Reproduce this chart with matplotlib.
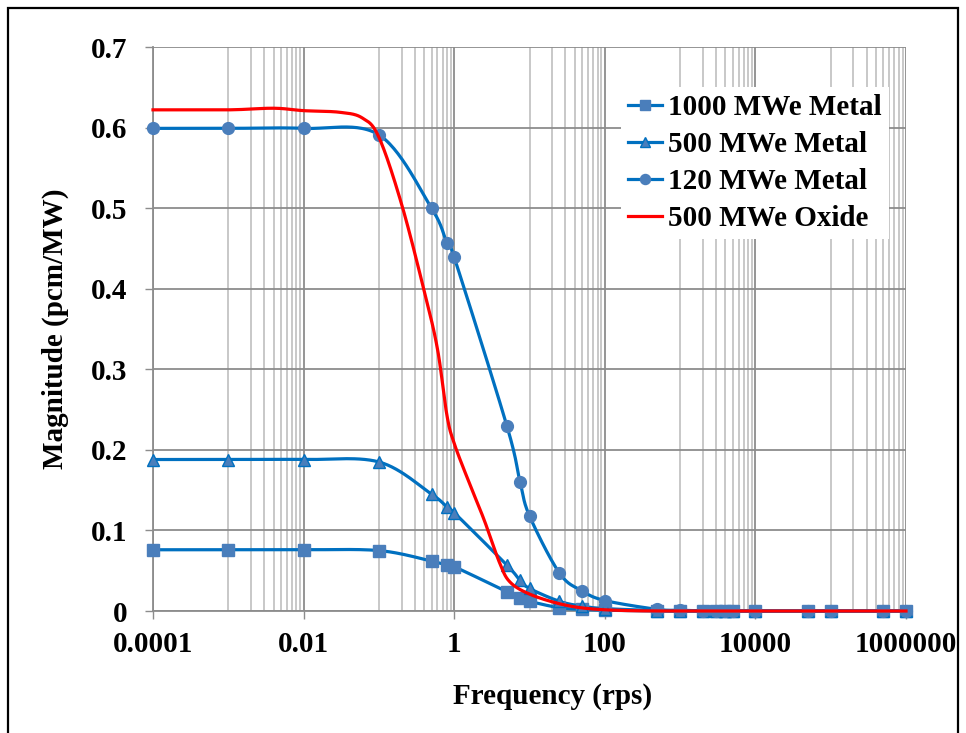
import numpy as np
import matplotlib
matplotlib.use("Agg")
import matplotlib.pyplot as plt
from matplotlib.lines import Line2D
from matplotlib.patches import Rectangle
from matplotlib.ticker import FixedLocator, NullFormatter

plt.rcParams['font.family'] = ['Liberation Serif', 'DejaVu Serif']
plt.rcParams['font.weight'] = 'bold'

# Frequencies (rps) shared by the metal-core series
freq = [1e-4, 1e-3, 1e-2, 0.1, 0.5, 0.8, 1, 5, 7.5, 10, 25, 50, 100, 500,
        1000, 2000, 3000, 4000, 5000, 1e4, 5e4, 1e5, 5e5, 1e6]

mag_1000_metal = [0.076, 0.076, 0.076, 0.075, 0.062, 0.057, 0.055, 0.024, 0.016,
                  0.012, 0.004, 0.002, 0.001, 0.0, 0, 0, 0, 0, 0, 0, 0, 0, 0, 0]
mag_500_metal = [0.188, 0.188, 0.188, 0.185, 0.145, 0.129, 0.122, 0.057, 0.038,
                 0.028, 0.012, 0.006, 0.003, 0.0005, 0, 0, 0, 0, 0, 0, 0, 0, 0, 0]
mag_120_metal = [0.599, 0.599, 0.599, 0.591, 0.500, 0.457, 0.439, 0.230, 0.160,
                 0.118, 0.047, 0.025, 0.013, 0.002, 0.001, 0, 0, 0, 0, 0, 0, 0, 0, 0]

# Oxide-core response
freq_oxide = [1e-4, 1e-3, 4e-3, 1e-2, 0.03, 0.06, 0.1, 0.2, 0.4, 0.6, 0.8, 1.0,
              1.6, 2.5, 4.0, 5.5, 10, 25, 60, 200, 1000, 1e4, 1e5, 1e6]
mag_500_oxide = [0.622, 0.622, 0.624, 0.621, 0.619, 0.612, 0.588, 0.505, 0.397,
                 0.325, 0.243, 0.208, 0.158, 0.113, 0.060, 0.036, 0.021, 0.009,
                 0.003, 0.0005, 0, 0, 0, 0]

x_major = [1e-4, 1e-2, 1, 100, 1e4, 1e6]
x_labels = ['0.0001', '0.01', '1', '100', '10000', '1000000']
y_ticks = [0, 0.1, 0.2, 0.3, 0.4, 0.5, 0.6, 0.7]
y_labels = ['0', '0.1', '0.2', '0.3', '0.4', '0.5', '0.6', '0.7']

series_labels = ['1000 MWe Metal', '500 MWe Metal', '120 MWe Metal', '500 MWe Oxide']

LINE_BLUE = '#0070C0'
MARK_BLUE = '#4A7EBB'
RED = '#FF0000'
GRID_MAJOR = '#8C8C8C'
GRID_MINOR = '#C4C4C4'


def smooth_curve(x, y, n=30):
    """Bezier smoothing through the points in (log10 x, y) space."""
    P = np.column_stack([np.log10(x), np.asarray(y, float)])
    t = np.linspace(0, 1, n)[:, None]
    parts = []
    for i in range(len(P) - 1):
        p0 = P[i - 1] if i > 0 else P[i]
        p1, p2 = P[i], P[i + 1]
        p3 = P[i + 2] if i + 2 < len(P) else P[i + 1]
        c1 = p1 + (p2 - p0) / 6.0
        c2 = p2 - (p3 - p1) / 6.0
        seg = ((1 - t) ** 3) * p1 + 3 * ((1 - t) ** 2) * t * c1 + 3 * (1 - t) * t ** 2 * c2 + t ** 3 * p2
        parts.append(seg if i == 0 else seg[1:])
    S = np.vstack(parts)
    return 10 ** S[:, 0], S[:, 1]


W, H = 966, 733
fig = plt.figure(figsize=(W / 100, H / 100), dpi=100)
fig.patch.set_facecolor('white')

x0, x1, y0, y1 = 153, 906, 47, 611
ax = fig.add_axes([x0 / W, 1 - y1 / H, (x1 - x0) / W, (y1 - y0) / H])

ax.set_xscale('log')
ax.set_xlim(1e-4, 1e6)
ax.set_ylim(0, 0.7)

ax.xaxis.set_major_locator(FixedLocator(x_major))
ax.set_xticklabels(x_labels)
minor = [k * 10.0 ** e for e in (-3, -1, 1, 3, 5) for k in range(1, 10)]
ax.xaxis.set_minor_locator(FixedLocator(minor))
ax.xaxis.set_minor_formatter(NullFormatter())
ax.set_yticks(y_ticks)
ax.set_yticklabels(y_labels)

ax.grid(which='minor', axis='x', color=GRID_MINOR, lw=1.3, zorder=0)
ax.grid(which='major', axis='both', color=GRID_MAJOR, lw=1.3, zorder=0)
ax.set_axisbelow(True)

for s in ('top', 'right'):
    ax.spines[s].set_visible(False)
for s in ('left', 'bottom'):
    ax.spines[s].set_color(GRID_MAJOR)
    ax.spines[s].set_linewidth(1.3)

ax.tick_params(axis='x', which='major', direction='out', length=5.5, width=1.0,
               color=GRID_MAJOR, labelsize=21, pad=9)
ax.tick_params(axis='x', which='minor', length=0)
ax.tick_params(axis='y', which='major', direction='out', length=5.5, width=1.0,
               color=GRID_MAJOR, labelsize=21, pad=13)
for lab in ax.get_xticklabels() + ax.get_yticklabels():
    lab.set_fontweight('bold')

# Metal-core series: smoothed line plus markers
metal = [(mag_1000_metal, 's', 8.0, MARK_BLUE),
         (mag_500_metal, '^', 9.0, LINE_BLUE),
         (mag_120_metal, 'o', 8.5, MARK_BLUE)]
handles = []
for (vals, mk, ms, mec), lab in zip(metal, series_labels[:3]):
    sx, sy = smooth_curve(freq, vals)
    ax.plot(sx, sy, color=LINE_BLUE, lw=2.3, zorder=3, clip_on=False,
            solid_capstyle='round')
    ax.plot(freq, vals, linestyle='none', marker=mk, ms=ms, mfc=MARK_BLUE,
            mec=mec, mew=1.0, zorder=4, clip_on=False)
    handles.append(Line2D([], [], color=LINE_BLUE, lw=2.3, marker=mk, ms=ms * 0.85,
                          mfc=MARK_BLUE, mec=mec, mew=1.0, label=lab))

ox, oy = smooth_curve(freq_oxide, mag_500_oxide)
ax.plot(ox, oy, color=RED, lw=2.3, zorder=5, clip_on=False)
handles.append(Line2D([], [], color=RED, lw=2.3, label=series_labels[3]))

leg = ax.legend(handles=handles, loc='upper left',
                bbox_to_anchor=((621 - x0) / (x1 - x0), (y1 - 87) / (y1 - y0)),
                borderaxespad=0, frameon=True, fancybox=False, framealpha=1,
                facecolor='white', edgecolor='none',
                prop={'size': 21, 'weight': 'bold'},
                handlelength=1.15, handletextpad=0.2, labelspacing=0.34,
                borderpad=0.25)
leg.set_zorder(6)

fig.text(553 / W, 1 - 697 / H, 'Frequency (rps)', ha='center', va='center',
         fontsize=21, fontweight='bold')
fig.text(55 / W, 1 - 329 / H, 'Magnitude (pcm/MW)', ha='center', va='center',
         rotation=90, fontsize=21, fontweight='bold')

# Outer frame of the chart area
fig.patches.append(Rectangle((8 / W, -0.05), (958 - 8) / W, 1 - 8 / H + 0.05,
                             transform=fig.transFigure, fill=False,
                             edgecolor='black', lw=1.6, zorder=10))

fig.savefig('out.png', dpi=100, facecolor='white')
